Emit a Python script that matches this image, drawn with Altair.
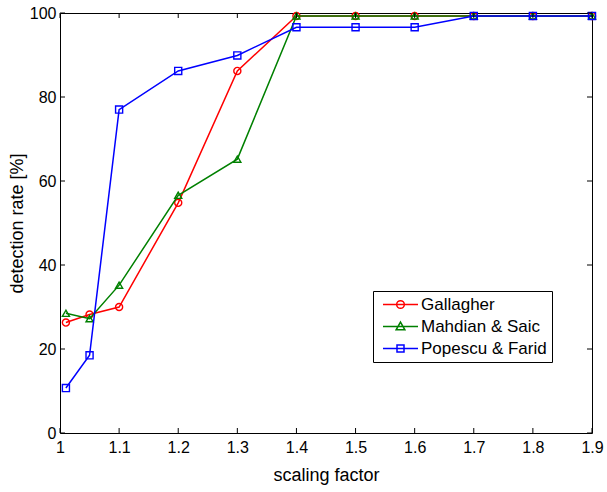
import altair as alt
import pandas as pd

# ---- data ----
scaling = [1.01, 1.05, 1.1, 1.2, 1.3, 1.4, 1.5, 1.6, 1.7, 1.8, 1.9]
gallagher = [26.3, 28.2, 30.0, 54.8, 86.2, 99.3, 99.3, 99.3, 99.3, 99.3, 99.3]
mahdian = [28.5, 27.2, 35.2, 56.6, 65.2, 99.3, 99.3, 99.3, 99.3, 99.3, 99.3]
popescu = [10.7, 18.5, 77.0, 86.2, 89.9, 96.6, 96.6, 96.6, 99.3, 99.3, 99.3]

series_names = ["Gallagher", "Mahdian & Saic", "Popescu & Farid"]
series_values = [gallagher, mahdian, popescu]
series_colors = ["#ff0000", "#008000", "#0000ff"]
series_shapes = ["circle", "triangle-up", "square"]

x_ticks = [1.0, 1.1, 1.2, 1.3, 1.4, 1.5, 1.6, 1.7, 1.8, 1.9]
y_ticks = [0, 20, 40, 60, 80, 100]

# legend symbols: line with marker (custom paths)
legend_paths = [
    "M-1,0H9M5.1,0A1.1,1.1,0,1,1,2.9,0A1.1,1.1,0,1,1,5.1,0",
    "M-1,0H9M4,-1.25L5.25,0.95L2.75,0.95Z",
    "M-1,0H9M3,-1H5V1H3Z",
]

W, H = 532, 420
FONT = "Liberation Sans"

rows = []
for name, vals in zip(series_names, series_values):
    for xv, yv in zip(scaling, vals):
        rows.append({"series": name, "x": xv, "y": yv})
df = pd.DataFrame(rows)

xscale = alt.Scale(domain=[1.0, 1.9], nice=False, zero=False)
yscale = alt.Scale(domain=[0, 100], nice=False, zero=False)

x_axis = alt.Axis(values=x_ticks, format="~g", title="scaling factor",
                  titleFont=FONT, titleFontSize=18, titleFontWeight="normal",
                  titleColor="black", titlePadding=11,
                  labelFont=FONT, labelFontSize=16, labelColor="black",
                  labelPadding=6, labelFlush=False, labelOverlap=False,
                  tickSize=0, domain=False, grid=False)
y_axis = alt.Axis(values=y_ticks, title="detection rate [%]",
                  titleFont=FONT, titleFontSize=18, titleFontWeight="normal",
                  titleColor="black", titlePadding=3,
                  labelFont=FONT, labelFontSize=16, labelColor="black",
                  labelPadding=4, labelOverlap=False,
                  tickSize=0, domain=False, grid=False)

X = alt.X("x:Q", scale=xscale, axis=x_axis)
Y = alt.Y("y:Q", scale=yscale, axis=y_axis)

layers = []
for name, col, shp in zip(series_names, series_colors, series_shapes):
    base = alt.Chart(df).transform_filter(alt.datum.series == name)
    line = base.mark_line(color=col, strokeWidth=1.5).encode(x=X, y=Y)
    pts = base.mark_point(shape=shp, filled=False, color=col, size=50,
                          strokeWidth=1.4, opacity=1).encode(x=X, y=Y)
    layers += [line, pts]

# inward tick marks (MATLAB style box)
xt = pd.DataFrame({"x": x_ticks})
yt = pd.DataFrame({"y": y_ticks})
tick_bottom = alt.Chart(xt).mark_rule(color="black", strokeWidth=1).encode(
    x=X, y=alt.value(H), y2=alt.value(H - 5))
tick_top = alt.Chart(xt).mark_rule(color="black", strokeWidth=1).encode(
    x=X, y=alt.value(0), y2=alt.value(5))
tick_left = alt.Chart(yt).mark_rule(color="black", strokeWidth=1).encode(
    y=Y, x=alt.value(0), x2=alt.value(5))
tick_right = alt.Chart(yt).mark_rule(color="black", strokeWidth=1).encode(
    y=Y, x=alt.value(W - 5), x2=alt.value(W))

leg = alt.Legend(title=None, orient="none", legendX=313, legendY=278,
                 direction="vertical", fillColor="white", strokeColor="black",
                 padding=5, labelFont=FONT, labelFontSize=17, labelColor="black",
                 labelOffset=26, rowPadding=4, symbolSize=49,
                 symbolStrokeWidth=1.5)
legend_layer = alt.Chart(df).transform_filter("false").mark_point(
    filled=False, strokeWidth=1.5, opacity=1).encode(
    x=X, y=Y,
    color=alt.Color("series:N", scale=alt.Scale(domain=series_names, range=series_colors), legend=leg),
    shape=alt.Shape("series:N", scale=alt.Scale(domain=series_names, range=legend_paths), legend=leg),
)

chart = alt.layer(*layers, tick_bottom, tick_top, tick_left, tick_right, legend_layer).properties(
    width=W, height=H,
    autosize=alt.AutoSizeParams(type="none"),
    padding={"left": 60, "top": 13, "right": 15, "bottom": 59},
    background="white",
).configure_view(stroke="black", strokeWidth=1)

chart.save("out.html", embed_options={"renderer": "svg", "actions": False})
